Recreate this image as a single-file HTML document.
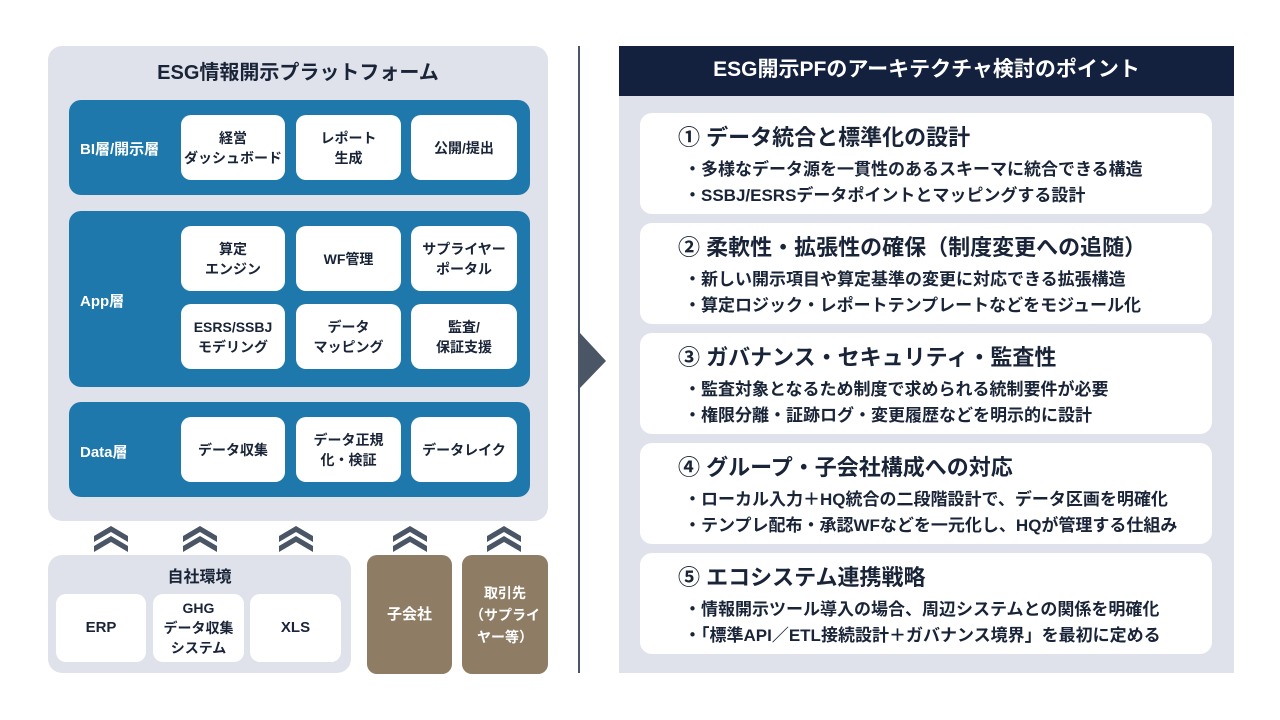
<!DOCTYPE html>
<html><head><meta charset="utf-8"><style>
*{margin:0;padding:0;box-sizing:border-box}
body{width:1280px;height:720px;background:#fff;position:relative;overflow:hidden;font-family:"Liberation Sans","Noto Sans CJK JP",sans-serif;color:#1a2438}
.a{position:absolute}
.panel{background:#dfe2ea;border-radius:14px}
.layer{background:#1f78ab;border-radius:12px}
.box{position:absolute;background:#fff;border-radius:10px;display:flex;align-items:center;justify-content:center;text-align:center;font-size:14px;font-weight:bold;line-height:20px;color:#1a2438}
.lbl{position:absolute;color:#fff;font-weight:bold;font-size:15px}
.brown{background:#8e7c64;border-radius:10px;color:#fff;display:flex;align-items:center;justify-content:center;text-align:center;font-weight:bold;font-size:15px;line-height:22px}
.card{position:absolute;left:640px;width:572px;height:101px;background:#fff;border-radius:12px}
.card h3{position:absolute;left:38px;top:7px;font-size:22px;font-weight:bold;color:#1a2438}
.card p{position:absolute;left:44px;font-size:17px;font-weight:bold;color:#1a2438;white-space:nowrap}
</style></head><body>
<div class="a panel" style="left:48px;top:46px;width:500px;height:475px"></div>
<div class="a" style="left:48px;top:56px;width:500px;text-align:center;font-size:20px;font-weight:bold">ESG情報開示プラットフォーム</div>

<div class="a layer" style="left:69px;top:100px;width:461px;height:95px"></div>
<div class="lbl" style="left:80px;top:138px">BI層/開示層</div>
<div class="box" style="left:181px;top:115px;width:104px;height:65px">経営<br>ダッシュボード</div>
<div class="box" style="left:296px;top:115px;width:105px;height:65px">レポート<br>生成</div>
<div class="box" style="left:411px;top:115px;width:106px;height:65px">公開/提出</div>

<div class="a layer" style="left:69px;top:211px;width:461px;height:176px"></div>
<div class="lbl" style="left:80px;top:290px">App層</div>
<div class="box" style="left:181px;top:226px;width:104px;height:65px">算定<br>エンジン</div>
<div class="box" style="left:296px;top:226px;width:105px;height:65px">WF管理</div>
<div class="box" style="left:411px;top:226px;width:106px;height:65px">サプライヤー<br>ポータル</div>
<div class="box" style="left:181px;top:304px;width:104px;height:65px">ESRS/SSBJ<br>モデリング</div>
<div class="box" style="left:296px;top:304px;width:105px;height:65px">データ<br>マッピング</div>
<div class="box" style="left:411px;top:304px;width:106px;height:65px">監査/<br>保証支援</div>

<div class="a layer" style="left:69px;top:402px;width:461px;height:95px"></div>
<div class="lbl" style="left:80px;top:441px">Data層</div>
<div class="box" style="left:181px;top:417px;width:104px;height:65px">データ収集</div>
<div class="box" style="left:296px;top:417px;width:105px;height:65px">データ正規<br>化・検証</div>
<div class="box" style="left:411px;top:417px;width:106px;height:65px">データレイク</div>

<svg class="a" style="left:0;top:0" width="620" height="560">
<defs><g id="c"><polygon points="0,10 17,0 34,10 34,16 17,6 0,16"/><polygon points="0,20 17,10 34,20 34,26 17,16 0,26"/></g></defs>
<g fill="#4a5566">
<use href="#c" x="94" y="526"/><use href="#c" x="183" y="526"/><use href="#c" x="279" y="526"/><use href="#c" x="393" y="526"/><use href="#c" x="487" y="526"/>
</g>
</svg>

<div class="a panel" style="left:48px;top:555px;width:303px;height:118px"></div>
<div class="a" style="left:48px;top:563px;width:303px;text-align:center;font-size:16px;font-weight:bold">自社環境</div>
<div class="box" style="left:56px;top:594px;width:90px;height:68px;font-size:15px">ERP</div>
<div class="box" style="left:153px;top:594px;width:91px;height:68px">GHG<br>データ収集<br>システム</div>
<div class="box" style="left:250px;top:594px;width:91px;height:68px;font-size:15px">XLS</div>
<div class="a brown" style="left:367px;top:555px;width:85px;height:119px">子会社</div>
<div class="a brown" style="left:462px;top:555px;width:86px;height:119px;font-size:14px">取引先<br>（サプライ<br>ヤー等）</div>

<div class="a" style="left:578px;top:46px;width:2px;height:627px;background:#4a5566"></div>
<svg class="a" style="left:580px;top:333px" width="28" height="56"><polygon points="0,0 26,28 0,55" fill="#4a5566"/></svg>

<div class="a" style="left:619px;top:46px;width:615px;height:50px;background:#13213f;color:#fff;font-size:21px;font-weight:bold;text-align:center;line-height:48px">ESG開示PFのアーキテクチャ検討のポイント</div>
<div class="a" style="left:619px;top:96px;width:615px;height:577px;background:#dfe2ea"></div>

<div class="card" style="top:113px"><h3>① データ統合と標準化の設計</h3><p style="top:42px">・多様なデータ源を一貫性のあるスキーマに統合できる構造</p><p style="top:68px">・SSBJ/ESRSデータポイントとマッピングする設計</p></div>
<div class="card" style="top:223px"><h3>② 柔軟性・拡張性の確保（制度変更への追随）</h3><p style="top:42px">・新しい開示項目や算定基準の変更に対応できる拡張構造</p><p style="top:68px">・算定ロジック・レポートテンプレートなどをモジュール化</p></div>
<div class="card" style="top:333px"><h3>③ ガバナンス・セキュリティ・監査性</h3><p style="top:42px">・監査対象となるため制度で求められる統制要件が必要</p><p style="top:68px">・権限分離・証跡ログ・変更履歴などを明示的に設計</p></div>
<div class="card" style="top:443px"><h3>④ グループ・子会社構成への対応</h3><p style="top:42px">・ローカル入力＋HQ統合の二段階設計で、データ区画を明確化</p><p style="top:68px">・テンプレ配布・承認WFなどを一元化し、HQが管理する仕組み</p></div>
<div class="card" style="top:553px"><h3>⑤ エコシステム連携戦略</h3><p style="top:42px">・情報開示ツール導入の場合、周辺システムとの関係を明確化</p><p style="top:68px">・「標準API／ETL接続設計＋ガバナンス境界」を最初に定める</p></div>
</body></html>
